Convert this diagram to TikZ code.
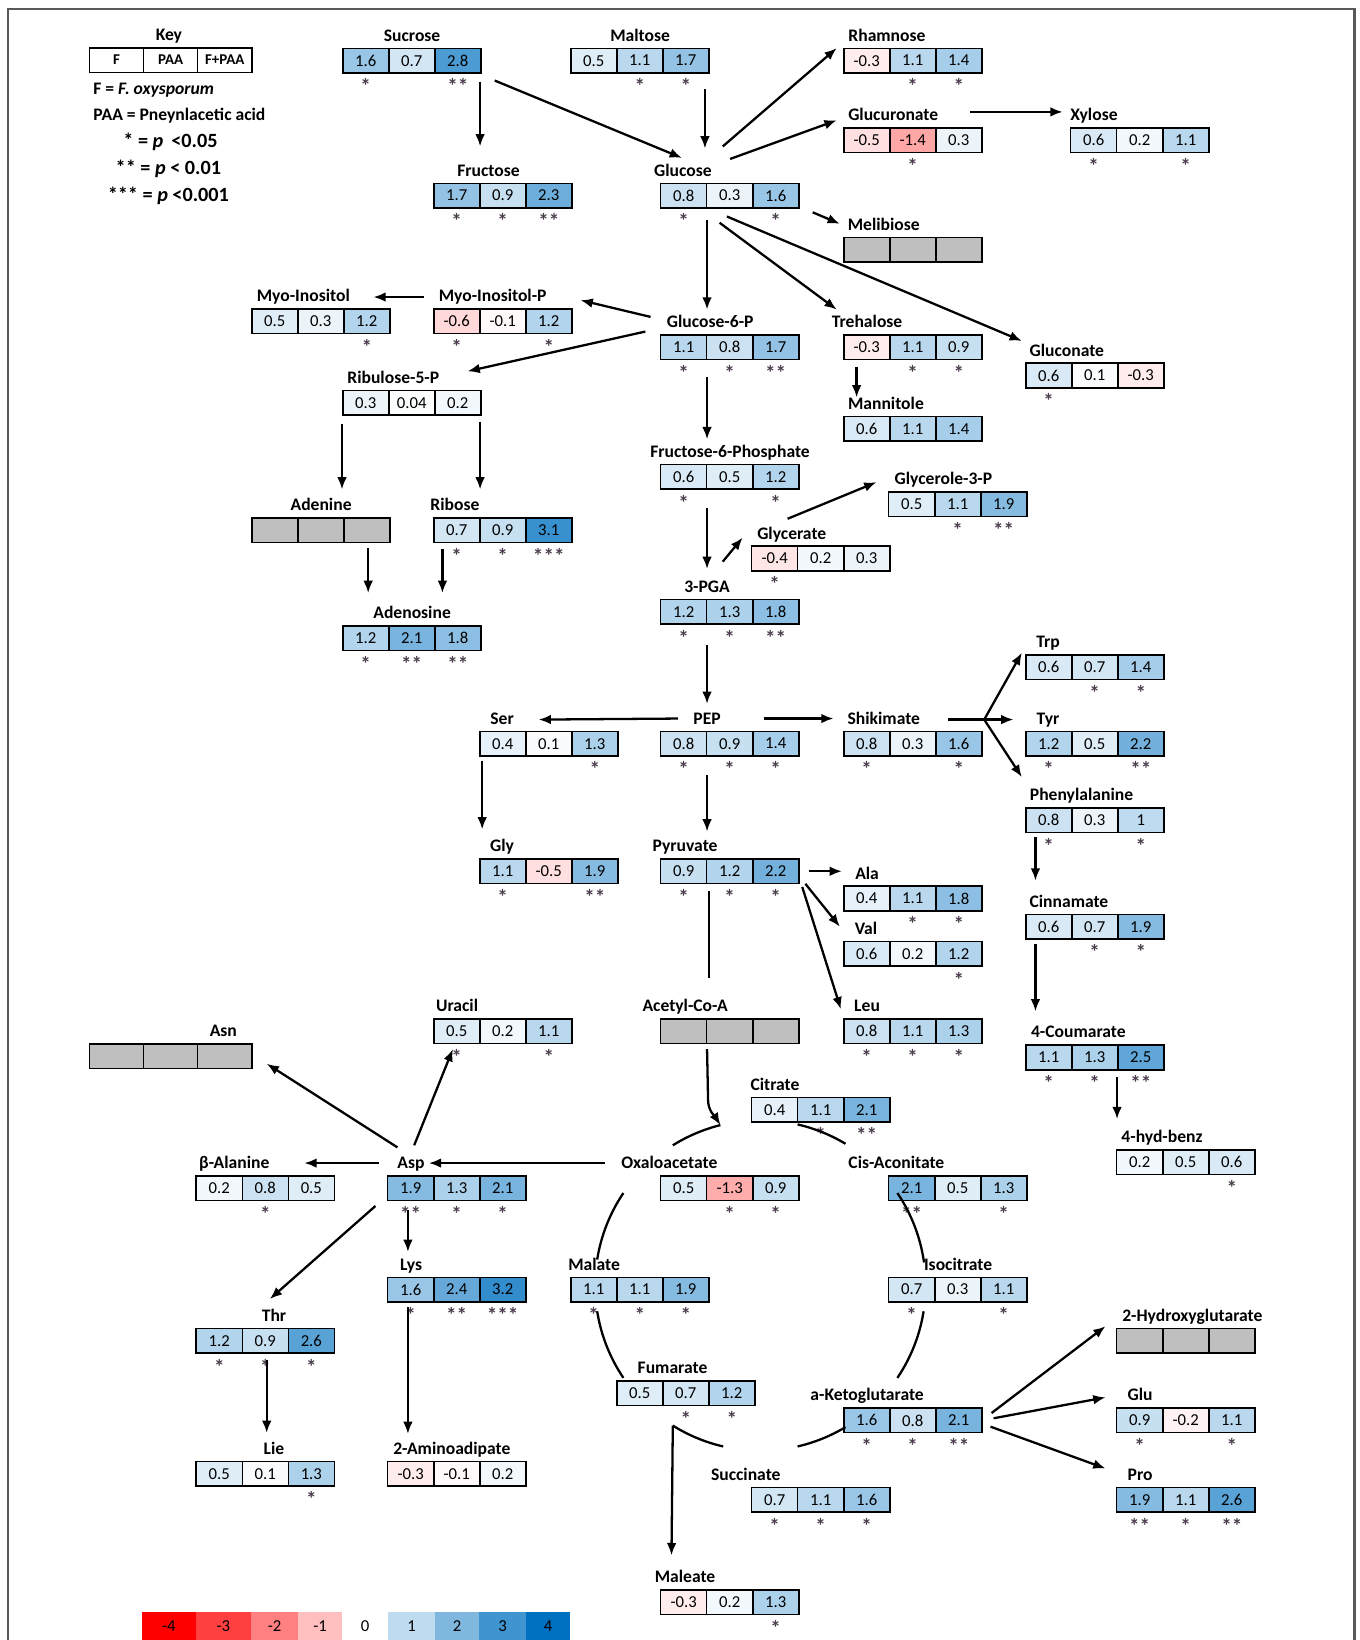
\documentclass[tikz,border=0pt]{standalone}
\usepackage{fontspec}
\setmainfont{Carlito}
\usepackage{tikz}
\usetikzlibrary{arrows.meta,calc,positioning}

\definecolor{pos}{HTML}{0070C0}
\definecolor{neg}{HTML}{FF0000}
\definecolor{nodata}{HTML}{BFBFBF}
\definecolor{sigc}{HTML}{4A3C4C}

\newcommand{\un}{0.0209cm}
\newcommand{\cw}{44}
% box of three fold changes (F, PAA, F+PAA) with stars below
\newcommand{\metab}[6]{%
  \node[mbox] (#1) at (#2,#3) {};
  \node[mlabel] (#1-t) at ($(#1.north)+(#5,-6.5)$) {#4};
  \foreach \v/\s [count=\i] in {#6}{
    \pgfmathsetmacro\pct{min(100,abs(\v)*25)}
    \ifdim\v pt<0pt \def\hue{neg}\else\def\hue{pos}\fi
    \node[cell,fill=\hue!\pct!white] (#1-\i) at ($(#1.west)+({(\i-0.5)*\cw},0)$) {\v};
    \node[sig] (#1-s\i) at ($(#1-\i.south)+(0,12)$) {\s};
  }
}
\newcommand{\nodatabox}[5]{%
  \node[mbox] (#1) at (#2,#3) {};
  \node[mlabel] (#1-t) at ($(#1.north)+(#5,-6.5)$) {#4};
  \foreach \i in {1,2,3}{
    \node[cell,fill=nodata] (#1-\i) at ($(#1.west)+({(\i-0.5)*\cw},0)$) {};
  }
}

\begin{document}
\begin{tikzpicture}[
  x=0.0209cm, y=-0.0209cm,
  font=\fontsize{9.5}{11}\selectfont,
  mbox/.style={inner sep=0pt,minimum width=3*\cw*\un,minimum height=23.5*\un},
  cell/.style={draw,line width=0.9pt,inner sep=0pt,minimum width=\cw*\un,minimum height=23.5*\un},
  mlabel/.style={anchor=base,inner sep=0pt,font=\fontsize{10}{12}\selectfont\bfseries},
  sig/.style={inner sep=0pt,text=sigc,font=\fontsize{12}{12}\selectfont\bfseries},
  keytxt/.style={inner sep=0pt,font=\fontsize{10}{12}\selectfont\bfseries},
  keysig/.style={inner sep=0pt,font=\fontsize{11.5}{13}\selectfont\bfseries},
  cbar/.style={inner sep=0pt,minimum height=27*\un},
  arr/.style={-{Latex[length=7pt,width=5.5pt]},line width=1.3pt},
  lnk/.style={line width=1.3pt}
]
\useasboundingbox (0,0) rectangle (1300,1568);
\draw[line width=1.2pt,black!65] (7.6,1568) -- (7.6,8.6) -- (1295,8.6) -- (1295,1568);

% key
\renewcommand{\cw}{51.7}
\node[mbox] (key) at (163.5,57.5) {};
\node[mlabel] (key-t) at ($(key.north)+(-2,-6.5)$) {Key};
\foreach \t [count=\i] in {F,PAA,F+PAA}{
  \node[cell,font=\fontsize{8.5}{10}\selectfont\bfseries] (key-\i) at ($(key.west)+({(\i-0.5)*\cw},0)$) {\t};
}
\node[keytxt,anchor=west] (kf) at (89,86) {F = \textit{F. oxysporum}};
\node[keytxt,anchor=west] (kp) at (89,111) {PAA = Pneynlacetic acid};
\node[keysig] (k1) at (163,136) {* = \textit{p}\, <0.05};
\node[keysig] (k2) at (161,161) {** = \textit{p} < 0.01};
\node[keysig] (k3) at (161,187) {*** = \textit{p} <0.001};
\nodatabox{asn}{163.5}{1010}{Asn}{50}
\renewcommand{\cw}{44}

% sugars
\metab{sucrose}{394}{58}{Sucrose}{0}{1.6/*,0.7/{},2.8/**}
\metab{maltose}{612}{58}{Maltose}{0}{0.5/{},1.1/*,1.7/*}
\metab{rhamnose}{873}{58}{Rhamnose}{-25}{-0.3/{},1.1/*,1.4/*}
\metab{glucuronate}{873}{134}{Glucuronate}{-19}{-0.5/{},-1.4/*,0.3/{}}
\metab{xylose}{1090}{134}{Xylose}{-44}{0.6/*,0.2/{},1.1/*}
\metab{fructose}{481}{187}{Fructose}{-14}{1.7/*,0.9/*,2.3/**}
\metab{glucose}{698}{187}{Glucose}{-45}{0.8/*,0.3/{},1.6/*}
\nodatabox{melibiose}{873}{239}{Melibiose}{-28}
\metab{myoino}{307}{307}{Myo-Inositol}{-17}{0.5/{},0.3/{},1.2/*}
\metab{myoinop}{481}{307}{Myo-Inositol-P}{-10}{-0.6/*,-0.1/{},1.2/*}
\metab{gsixp}{698}{332}{Glucose-6-P}{-19}{1.1/*,0.8/*,1.7/**}
\metab{trehalose}{873}{332}{Trehalose}{-44}{-0.3/{},1.1/*,0.9/*}
\metab{gluconate}{1047}{359}{Gluconate}{-27}{0.6/*,0.1/{},-0.3/{}}
\metab{ribulose}{394}{385}{Ribulose-5-P}{-18}{0.3/{},0.04/{},0.2/{}}
\metab{mannitole}{873}{410}{Mannitole}{-26}{0.6/{},1.1/{},1.4/{}}
\metab{fsixp}{698}{456}{Fructose-6-Phosphate}{0}{0.6/*,0.5/{},1.2/*}
\metab{glycerolp}{916}{482}{Glycerole-3-P}{-14}{0.5/{},1.1/*,1.9/**}
\nodatabox{adenine}{307}{507}{Adenine}{0}
\metab{ribose}{481}{507}{Ribose}{-46}{0.7/*,0.9/*,3.1/***}
\metab{glycerate}{785}{534}{Glycerate}{-28}{-0.4/*,0.2/{},0.3/{}}
\metab{pga}{698}{585}{3-PGA}{-22}{1.2/*,1.3/*,1.8/**}
\metab{adenosine}{394}{610}{Adenosine}{0}{1.2/*,2.1/**,1.8/**}

% amino acids and aromatics
\metab{trp}{1047}{638}{Trp}{-45}{0.6/{},0.7/*,1.4/*}
\metab{ser}{525}{711}{Ser}{-45}{0.4/{},0.1/{},1.3/*}
\metab{pep}{698}{711}{PEP}{-22}{0.8/*,0.9/*,1.4/*}
\metab{shikimate}{873}{711}{Shikimate}{-28}{0.8/*,0.3/{},1.6/*}
\metab{tyr}{1047}{711}{Tyr}{-45}{1.2/*,0.5/{},2.2/**}
\metab{phe}{1047}{784}{Phenylalanine}{-13}{0.8/*,0.3/{},1/*}
\metab{gly}{525}{833}{Gly}{-45}{1.1/*,-0.5/{},1.9/**}
\metab{pyruvate}{698}{833}{Pyruvate}{-43}{0.9/*,1.2/*,2.2/*}
\metab{ala}{873}{859}{Ala}{-44}{0.4/{},1.1/*,1.8/*}
\metab{cinnamate}{1047}{886}{Cinnamate}{-25}{0.6/{},0.7/*,1.9/*}
\metab{val}{873}{912}{Val}{-45}{0.6/{},0.2/{},1.2/*}
\metab{uracil}{481}{986}{Uracil}{-44}{0.5/*,0.2/{},1.1/*}
\nodatabox{acoa}{698}{986}{Acetyl-Co-A}{-43}
\metab{leu}{873}{986}{Leu}{-44}{0.8/*,1.1/*,1.3/*}
\metab{coumarate}{1047}{1011}{4-Coumarate}{-16}{1.1/*,1.3/*,2.5/**}
\metab{citrate}{785}{1061}{Citrate}{-44}{0.4/{},1.1/*,2.1/**}
\metab{hydbenz}{1134}{1111}{4-hyd-benz}{-23}{0.2/{},0.5/{},0.6/*}
\metab{balanine}{254}{1136}{β-Alanine}{-30}{0.2/{},0.8/*,0.5/{}}
\metab{asp}{437}{1136}{Asp}{-44}{1.9/**,1.3/*,2.1/*}
\metab{oaa}{698}{1136}{Oxaloacetate}{-58}{0.5/{},-1.3/*,0.9/*}
\metab{cisacon}{916}{1136}{Cis-Aconitate}{-59}{2.1/**,0.5/{},1.3/*}
\metab{lys}{437}{1233}{Lys}{-44}{1.6/*,2.4/**,3.2/***}
\metab{malate}{612}{1233}{Malate}{-44}{1.1/*,1.1/*,1.9/*}
\metab{isocitrate}{916}{1233}{Isocitrate}{0}{0.7/*,0.3/{},1.1/*}
\nodatabox{hglut}{1134}{1282}{2-Hydroxyglutarate}{6}
\metab{thr}{254}{1282}{Thr}{8}{1.2/*,0.9/*,2.6/*}
\metab{fumarate}{656}{1332}{Fumarate}{-13}{0.5/{},0.7/*,1.2/*}
\metab{akg}{873}{1358}{a-Ketoglutarate}{-44}{1.6/*,0.8/*,2.1/**}
\metab{glu}{1134}{1358}{Glu}{-44}{0.9/*,-0.2/{},1.1/*}
\metab{ile}{254}{1409}{Lie}{8}{0.5/{},0.1/{},1.3/*}
\metab{aminoadip}{437}{1409}{2-Aminoadipate}{-5}{-0.3/{},-0.1/{},0.2/{}}
\metab{succinate}{785}{1434}{Succinate}{-72}{0.7/*,1.1/*,1.6/*}
\metab{pro}{1134}{1434}{Pro}{-44}{1.9/**,1.1/*,2.6/**}
\metab{maleate}{698}{1532}{Maleate}{-43}{-0.3/{},0.2/{},1.3/*}

% sugar arrows
\draw[arr] ($(sucrose)+(65,20)$) -- ($(fructose)+(-22,-47)$);
\draw[arr] ($(sucrose)+(79,19)$) -- ($(glucose)+(-46,-36)$);
\draw[arr] ($(maltose)+(62,27)$) -- ($(glucose)+(-24,-45)$);
\draw[arr] ($(glucose)+(-7,-47)$) -- ($(rhamnose)+(-73,-12)$);
\draw[arr] ($(glucose)+(0,-35)$) -- ($(glucuronate)+(-73,-19)$);
\draw[arr] ($(glucuronate)+(54,-27)$) -- ($(xylose)+(-74,-27)$);
\draw[arr] ($(glucose)+(79,16)$) -- ($(melibiose)+(-70,-25)$);
\draw[arr] ($(glucose)+(-22,23)$) -- ($(gsixp)+(-22,-36)$);
\draw[arr] ($(glucose)+(-10,26)$) -- ($(trehalose)+(-73,-36)$);
\draw[arr] ($(glucose)+(-3,20)$) -- ($(gluconate)+(-70,-33)$);
\draw[arr] ($(gsixp)+(-76,-29)$) -- ($(myoinop)+(74,-20)$);
\draw[arr] ($(myoinop)+(-76,-23)$) -- ($(myoino)+(50,-23)$);
\draw[arr] ($(gsixp)+(-81,-15)$) -- ($(ribulose)+(53,-30)$);
\draw[arr] ($(trehalose)+(-54,19)$) -- ($(mannitole)+(-54,-30)$);
\draw[arr] ($(gsixp)+(-22,28)$) -- ($(fsixp)+(-22,-36)$);
\draw[arr] ($(ribulose)+(-67,20)$) -- ($(adenine)+(20,-39)$);
\draw[arr] ($(ribulose)+(65,18)$) -- ($(ribose)+(-22,-39)$);
\draw[arr] ($(fsixp)+(-22,30)$) -- ($(pga)+(-22,-41)$);
\draw[arr] ($(pga)+(-7,-48)$) -- ($(glycerate)+(-75,-20)$);
\draw[arr] ($(glycerate)+(-32,-38)$) -- ($(glycerolp)+(-78,-21)$);
\draw[arr] ($(adenine)+(45,17)$) -- ($(adenosine)+(-42,-43)$);
\draw[arr] ($(ribose)+(-58,18)$) -- ($(adenosine)+(29,-43)$);

% glycolysis and amino acids
\draw[arr] ($(pga)+(-22,32)$) -- ($(pep)+(-22,-38)$);
\draw[arr] ($(pep)+(-50,-24)$) -- ($(ser)+(-10,-23)$);
\draw[arr] ($(pep)+(32,-24)$) -- ($(shikimate)+(-76,-24)$);
\coordinate (fork) at ($(shikimate)+(68,-23)$);
\draw[lnk] ($(shikimate)+(33,-23)$) -- (fork);
\draw[arr] (fork) -- ($(trp)+(-70,-14)$);
\draw[arr] (fork) -- ($(tyr)+(-78,-23)$);
\draw[arr] (fork) -- ($(phe)+(-70,-41)$);
\draw[arr] ($(ser)+(-64,17)$) -- ($(gly)+(-64,-40)$);
\draw[arr] ($(pep)+(-22,30)$) -- ($(pyruvate)+(-22,-38)$);
\draw[arr] ($(phe)+(-57,16)$) -- ($(cinnamate)+(-57,-44)$);
\draw[arr] ($(pyruvate)+(75,0)$) -- ($(ala)+(-68,-26)$);
\draw[arr] ($(pyruvate)+(72,12)$) -- ($(val)+(-70,-26)$);
\draw[arr] ($(pyruvate)+(69,15)$) -- ($(leu)+(-69,-21)$);
\draw[lnk] ($(pyruvate)+(-20,19)$) -- ($(acoa)+(-20,-51)$);
\draw[arr] ($(cinnamate)+(-57,17)$) -- ($(coumarate)+(-57,-44)$);
\draw[arr] ($(coumarate)+(21,19)$) -- ($(hydbenz)+(-66,-41)$);

% TCA cycle
\coordinate (tca) at ($(oaa)+(29,93)$);
\foreach \a/\b in {-122/-104,-77/-59,-34/-8,9/34,59/77,103/122,146/171,189/214}{
  \draw[lnk] ($(tca)+(\a:158)$) arc[start angle=\a,end angle=\b,radius=158];
}
\draw[arr] ($(acoa)+(-22,17)$) -- ($(acoa)+(-21,66)$)
  .. controls +(0,10) and +(-5,-8) .. ($(tca)+(-104:158)$);
\draw[arr] ($(tca)+(122:158)$) -- ($(maleate)+(-56,-45)$);

% aspartate family
\draw[arr] ($(oaa)+(-120,-24)$) -- ($(asp)+(-27,-24)$);
\draw[arr] ($(asp)+(-57,-39)$) -- ($(asn)+(91.5,7)$);
\draw[arr] ($(asp)+(-41,-41)$) -- ($(uracil)+(-48,17)$);
\draw[arr] ($(asp)+(-75,-24)$) -- ($(balanine)+(37,-24)$);
\draw[arr] ($(asp)+(-78,17)$) -- ($(thr)+(4,-40)$);
\draw[arr] ($(asp)+(-47,21)$) -- ($(lys)+(-47,-36)$);
\draw[arr] ($(lys)+(-47,17)$) -- ($(aminoadip)+(-47,-38)$);
\draw[arr] ($(thr)+(1,18)$) -- ($(ile)+(1,-39)$);

% glutamate family
\draw[arr] ($(akg)+(75,-7)$) -- ($(hglut)+(-77,-14)$);
\draw[arr] ($(akg)+(77,-2)$) -- ($(glu)+(-77,-22)$);
\draw[arr] ($(akg)+(74,6)$) -- ($(pro)+(-77,-30)$);

% colour scale
\foreach \k/\xa/\xb in {-4/136/187,-3/187/240,-2/240/285,-1/285/327,0/327/371,1/371/416,2/416/458,3/458/503,4/503/545}{
  \pgfmathsetmacro\pct{min(100,abs(\k)*25)}
  \ifnum\k<0 \def\hue{neg}\else\def\hue{pos}\fi
  \node[cbar,minimum width={(\xb-\xa)*\un},fill=\hue!\pct!white] (cb\k) at ({(\xa+\xb)/2},1554.5) {\k};
}
\end{tikzpicture}
\end{document}
